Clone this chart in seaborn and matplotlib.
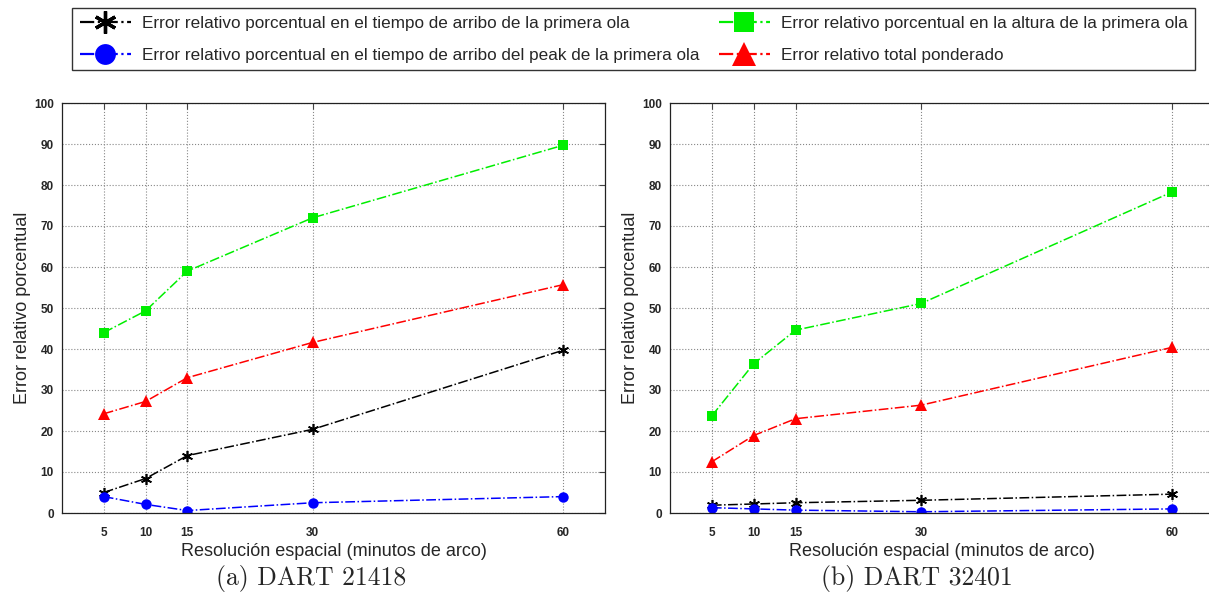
import matplotlib
matplotlib.use("Agg")
import matplotlib.pyplot as plt
import seaborn as sns
from matplotlib.lines import Line2D
import pandas as pd

resolution = [5, 10, 15, 30, 60]
labels = [
    "Error relativo porcentual en el tiempo de arribo de la primera ola",
    "Error relativo porcentual en el tiempo de arribo del peak de la primera ola",
    "Error relativo porcentual en la altura de la primera ola",
    "Error relativo total ponderado",
]
# DART 21418
a_arribo = [5.0, 8.4, 14.0, 20.4, 39.7]
a_peak = [4.0, 2.1, 0.6, 2.5, 4.0]
a_altura = [44.0, 49.3, 59.0, 72.0, 89.7]
a_total = [24.2, 27.2, 33.0, 41.6, 55.7]
# DART 32401
b_arribo = [1.9, 2.2, 2.5, 3.1, 4.6]
b_peak = [1.3, 1.0, 0.7, 0.3, 1.0]
b_altura = [23.7, 36.4, 44.6, 51.1, 78.3]
b_total = [12.5, 18.9, 23.0, 26.3, 40.4]

captions = ["(a) DART 21418", "(b) DART 32401"]
xticks = [5, 10, 15, 30, 60]
yticks = list(range(0, 101, 10))

sns.set_style("white")
plt.rcParams['font.family'] = ['Liberation Sans', 'DejaVu Sans']

styles = [
    dict(color="black", marker=(6, 2, 0), ms=8, mew=1.2),
    dict(color="#0000ff", marker="o", ms=7.5, mew=0),
    dict(color="#00ee00", marker="s", ms=7.5, mew=0),
    dict(color="#ff0000", marker="^", ms=8.5, mew=0),
]

fig = plt.figure(figsize=(12.09, 5.99), dpi=100)
W, H = 1209, 599
ax_a = fig.add_axes([62 / W, 1 - 513 / H, 543 / W, 410 / H])
ax_b = fig.add_axes([670 / W, 1 - 513 / H, 544 / W, 410 / H])

datasets = [
    (ax_a, [a_arribo, a_peak, a_altura, a_total], captions[0]),
    (ax_b, [b_arribo, b_peak, b_altura, b_total], captions[1]),
]

for ax, series, cap in datasets:
    for vals, st, lab in zip(series, styles, labels):
        df = pd.DataFrame({"x": resolution, "y": vals})
        sns.lineplot(data=df, x="x", y="y", ax=ax, color=st["color"], linestyle="-.",
                     linewidth=1.1, marker=st["marker"], markersize=st["ms"],
                     markeredgewidth=st["mew"], markeredgecolor=st["color"],
                     markerfacecolor=st["color"], legend=False)
    ax.set_xlim(0, 65)
    ax.set_ylim(0, 100)
    ax.set_xticks(xticks)
    ax.set_yticks(yticks)
    ax.grid(True, linestyle=":", color="#888888", linewidth=0.8)
    ax.tick_params(direction="in", length=4, top=True, right=True, labelsize=8.5,
                   width=0.8, color="#444444")
    ax.tick_params(axis="x", pad=10)
    ax.tick_params(axis="y", pad=6)
    for t in ax.get_xticklabels() + ax.get_yticklabels():
        t.set_fontweight("bold")
    for s in ax.spines.values():
        s.set_color("#222222")
        s.set_linewidth(0.9)
    ax.set_xlabel("Resolución espacial (minutos de arco)", fontsize=13, labelpad=3)
    ax.set_ylabel("Error relativo porcentual", fontsize=13, labelpad=2)

fig.text(311 / W, 1 - 578 / H, captions[0], family="cmr10", fontsize=18.5,
         ha="center", va="center")
fig.text(917 / W, 1 - 578 / H, captions[1], family="cmr10", fontsize=18.5,
         ha="center", va="center")

order = [0, 1, 2, 3]
handles = []
for i in order:
    st = styles[i]
    handles.append(Line2D([0], [0], color=st["color"], linestyle="-.", linewidth=1.6,
                          marker=st["marker"], markersize=st["ms"] * 2.0,
                          markeredgewidth=st["mew"] * 2.0, markeredgecolor=st["color"],
                          markerfacecolor=st["color"]))
leg = fig.legend(handles, [labels[i] for i in order], ncol=2,
                 loc="upper left", bbox_to_anchor=(72 / W, 1 - 8 / H),
                 fontsize=12.3, frameon=True,
                 fancybox=False, edgecolor="black", handlelength=3.0,
                 handletextpad=0.62, borderaxespad=0, labelspacing=1.0,
                 borderpad=0.45, columnspacing=1.15)
leg.get_frame().set_linewidth(1.0)

fig.savefig("out.png", dpi=100)
